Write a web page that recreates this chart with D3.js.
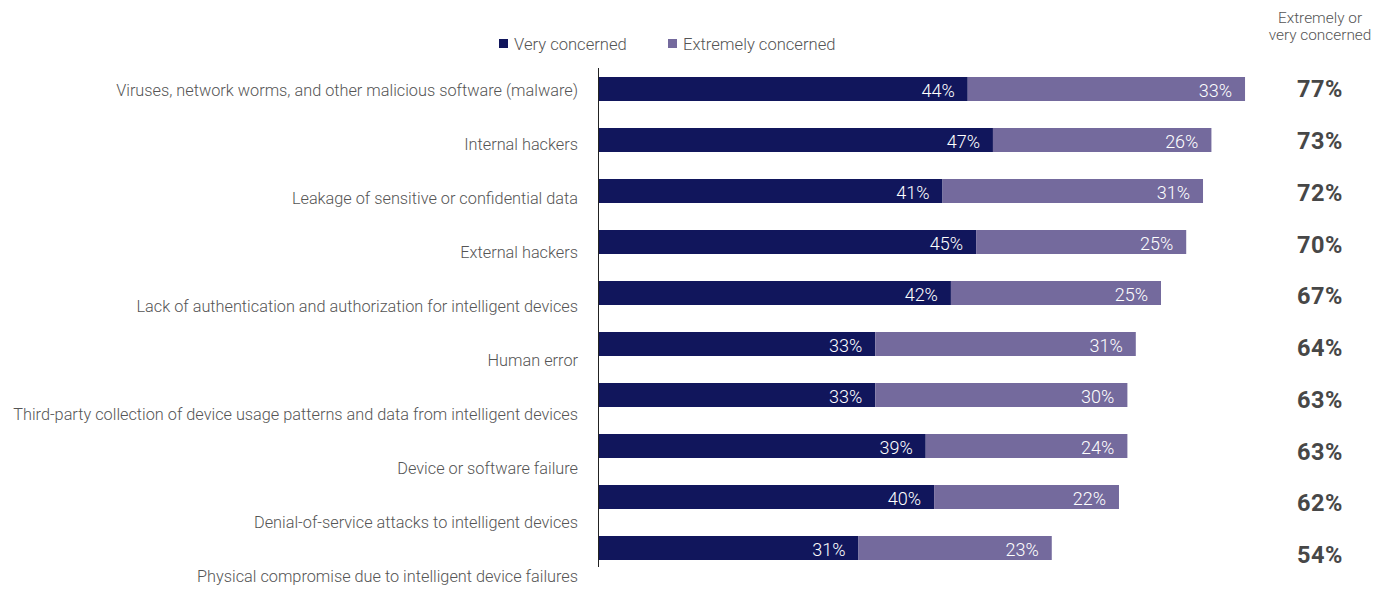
<!DOCTYPE html>
<html>
<head>
<meta charset="utf-8">
<script src="https://cdn.jsdelivr.net/npm/d3@7"></script>
<style>
  html, body { margin: 0; padding: 0; background: #fff; }
  svg { display: block; }
  text { font-family: Roboto, "Liberation Sans", sans-serif; }
</style>
</head>
<body>
<div id="chart"></div>
<script>
// Concern about security threats to intelligent devices
const categories = [
  "Viruses, network worms, and other malicious software (malware)",
  "Internal hackers",
  "Leakage of sensitive or confidential data",
  "External hackers",
  "Lack of authentication and authorization for intelligent devices",
  "Human error",
  "Third-party collection of device usage patterns and data from intelligent devices",
  "Device or software failure",
  "Denial-of-service attacks to intelligent devices",
  "Physical compromise due to intelligent device failures"
];
const veryConcerned      = [44, 47, 41, 45, 42, 33, 33, 39, 40, 31];
const extremelyConcerned = [33, 26, 31, 25, 25, 31, 30, 24, 22, 23];
const combinedTotals     = [77, 73, 72, 70, 67, 64, 63, 63, 62, 54];
const seriesNames = ["Very concerned", "Extremely concerned"];
const totalsHeader = ["Extremely or", "very concerned"];

const W = 1395, H = 589;
const colors = ["#11165c", "#746a9d"];
const labelColor = "#555555";

const svg = d3.select("#chart").append("svg")
  .attr("width", W).attr("height", H);

const rows = categories.map((c, i) => ({
  cat: c, i,
  segs: [
    { key: 0, x0: 0, x1: veryConcerned[i], v: veryConcerned[i] },
    { key: 1, x0: veryConcerned[i], x1: veryConcerned[i] + extremelyConcerned[i], v: extremelyConcerned[i] }
  ]
}));

const x = d3.scaleLinear().domain([0, 100]).range([598, 598 + 840.3]);
const y = d3.scaleBand().domain(d3.range(categories.length))
  .range([63.5, 573.5]).paddingInner(27 / 51).paddingOuter(27 / 102);
const yLabel = d3.scalePoint().domain(d3.range(categories.length)).range([90, 576]);
const yTotal = d3.scalePoint().domain(d3.range(categories.length)).range([89, 555]);

// Stacked bars
const rowG = svg.append("g").selectAll("g").data(rows).join("g");
rowG.selectAll("rect").data(d => d.segs.map(s => ({ ...s, i: d.i }))).join("rect")
  .attr("x", s => x(s.x0))
  .attr("y", s => y(s.i))
  .attr("width", s => x(s.x1) - x(s.x0))
  .attr("height", y.bandwidth())
  .attr("fill", s => colors[s.key]);

rowG.selectAll("text.val").data(d => d.segs.map(s => ({ ...s, i: d.i }))).join("text")
  .attr("class", "val")
  .attr("x", s => x(s.x1) - 13)
  .attr("y", s => y(s.i) + y.bandwidth() / 2 + 1.5)
  .attr("dy", "0.35em")
  .attr("text-anchor", "end")
  .attr("fill", "#ffffff")
  .attr("font-size", 18)
  .attr("font-weight", 300)
  .text(s => s.v + "%");

// Category axis labels
const yAxis = d3.axisLeft(yLabel).tickSize(0).tickPadding(20)
  .tickFormat(i => categories[i]);
const axisG = svg.append("g").attr("transform", "translate(598,0)").call(yAxis);
axisG.select(".domain").remove();
axisG.selectAll("text")
  .attr("font-size", 16.3)
  .attr("font-weight", 300)
  .attr("fill", labelColor)
  .attr("font-family", "Roboto, 'Liberation Sans', sans-serif");

// Baseline of the bars
svg.append("line")
  .attr("x1", 598.5).attr("x2", 598.5)
  .attr("y1", 68).attr("y2", 567)
  .attr("stroke", "#222").attr("stroke-width", 1);

// Combined totals
svg.append("g").selectAll("text").data(combinedTotals).join("text")
  .attr("x", 1320)
  .attr("y", (d, i) => yTotal(i))
  .attr("dy", "0.35em")
  .attr("text-anchor", "middle")
  .attr("font-size", 23.5)
  .attr("font-weight", 700)
  .attr("letter-spacing", 0.6)
  .attr("fill", "#474747")
  .text(d => d + "%");

svg.append("g").selectAll("text").data(totalsHeader).join("text")
  .attr("x", 1320)
  .attr("y", (d, i) => 23 + i * 17)
  .attr("text-anchor", "middle")
  .attr("font-size", 15.4)
  .attr("font-weight", 300)
  .attr("fill", labelColor)
  .text(d => d);

// Legend
const legend = svg.append("g").selectAll("g").data(seriesNames).join("g")
  .attr("transform", (d, i) => `translate(${[499, 668][i]},39)`);
legend.append("rect").attr("width", 9).attr("height", 9)
  .attr("fill", (d, i) => colors[i]);
legend.append("text").attr("x", 15).attr("y", 11)
  .attr("font-size", 16.6)
  .attr("font-weight", 300)
  .attr("fill", labelColor)
  .text(d => d);
</script>
</body>
</html>
